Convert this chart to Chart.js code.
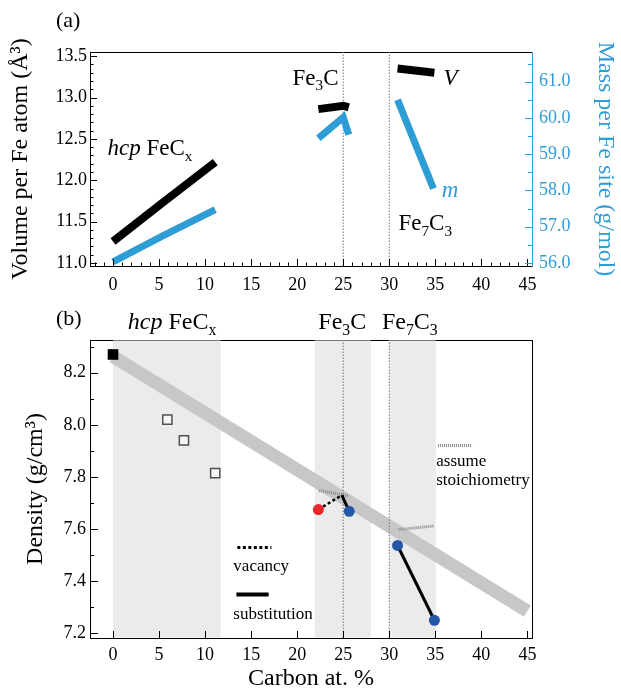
<!DOCTYPE html>
<html lang="en">
<head>
<meta charset="UTF-8" />
<title>Fe carbides: volume, mass and density</title>
<script src="https://cdn.jsdelivr.net/npm/chart.js@4.4.1/dist/chart.umd.min.js"></script>
<style>
  body { margin: 0; background: #fff; }
  canvas { position: absolute; left: 0; }
  #volume { top: 0; }
  #density { top: 300px; }
</style>
</head>
<body>
<canvas id="volume" width="621" height="300"></canvas>
<canvas id="density" width="621" height="393"></canvas>

<script>
const BLUE = 'rgb(46, 157, 214)'
const SERIF = '"Liberation Serif", "Times New Roman", serif'

// axis ticks
const xTicks = [0, 5, 10, 15, 20, 25, 30, 35, 40, 45]
const volumeTicks = [11.0, 11.5, 12.0, 12.5, 13.0, 13.5]
const massTicks = [56, 57, 58, 59, 60, 61]
const densityTicks = [7.2, 7.4, 7.6, 7.8, 8.0, 8.2]

// (a) volume per Fe atom (left axis) and mass per Fe site (right axis)
const hcpX = [0, 5.5, 11.1]
const hcpVolume = [11.26, 11.74, 12.22]
const hcpMass = [56.03, 56.76, 57.47]
const fe3cX = [22.3, 25.0, 25.6]
const fe3cVolume = [12.86, 12.9, 12.88]
const fe3cMass = [59.44, 60.02, 59.54]
const fe7c3X = [30.9, 34.9]
const fe7c3Volume = [13.35, 13.3]
const fe7c3MassX = [30.9, 34.8]
const fe7c3Mass = [60.5, 58.05]

// (b) density
const trendX = [0, 45]
const trendDensity = [8.262, 7.285]
const feX = [0]
const feDensity = [8.27]
const hcpExpX = [5.9, 7.7, 11.1]
const hcpExpDensity = [8.02, 7.94, 7.815]
const vacancyX = [22.3]
const vacancyDensity = [7.675]
const substX = [25.65, 30.9, 34.9]
const substDensity = [7.668, 7.537, 7.25]
const vacancyPathX = [22.3, 24.85]
const vacancyPathDensity = [7.675, 7.73]
const substPathX = [24.85, 25.65]
const substPathDensity = [7.73, 7.668]
const fe7c3PathX = [30.9, 34.9]
const fe7c3PathDensity = [7.537, 7.25]
const stoichFe3cX = [22.4, 25.6]
const stoichFe3cDensity = [7.748, 7.728]
const stoichFe7c3X = [31.0, 34.8]
const stoichFe7c3Density = [7.598, 7.612]
const phaseRanges = [[0, 11.7], [21.9, 28.0], [30.0, 35.05]]
const phaseLines = [25, 30]

// key samples in panel (b)
const vacancyKeyX = [13.5, 17.2]
const vacancyKeyY = [7.529, 7.529]
const substKeyX = [13.4, 16.9]
const substKeyY = [7.349, 7.349]
const stoichKeyX = [35.3, 39.0]
const stoichKeyY = [7.921, 7.921]

const X_MIN = -2.5, X_MAX = 45.5
const VOL_MIN = 10.964, VOL_MAX = 13.55
const MASS_MIN = 55.917, MASS_MAX = 61.82
const DEN_MIN = 7.182, DEN_MAX = 8.3255

Chart.defaults.font.family = SERIF
Chart.defaults.color = '#000'

function pts(xs, ys) {
  return xs.map((x, i) => ({ x, y: ys[i] }))
}

function line(xs, ys, color, width, extra) {
  return Object.assign({
    data: pts(xs, ys),
    showLine: true,
    borderColor: color,
    borderWidth: width,
    borderCapStyle: 'butt',
    pointRadius: 0,
    order: 5,
  }, extra || {})
}

function guides(yMin, yMax) {
  return phaseLines.map((x) => line([x, x], [yMin, yMax], '#777', 1, { borderDash: [1.5, 1.5], order: 8 }))
}

function range(from, to, step) {
  const out = []
  for (let v = from; v <= to + 1e-9; v += step) out.push(Math.round(v * 100) / 100)
  return out
}

const innerTicks = {
  id: 'innerTicks',
  afterDraw(chart, args, opts) {
    const ctx = chart.ctx
    const { top, bottom, left, right } = chart.chartArea
    ctx.save()
    ctx.lineWidth = 1
    opts.specs.forEach((spec) => {
      const scale = chart.scales[spec.axis]
      ctx.strokeStyle = spec.color || '#000'
      const draw = (v, len) => {
        const p = Math.round(scale.getPixelForValue(v)) + 0.5
        ctx.beginPath()
        if (spec.side === 'bottom') {
          ctx.moveTo(p, bottom)
          ctx.lineTo(p, bottom - len)
        } else if (spec.side === 'left') {
          ctx.moveTo(left, p)
          ctx.lineTo(left + len, p)
        } else {
          ctx.moveTo(right, p)
          ctx.lineTo(right - len, p)
        }
        ctx.stroke()
      }
      spec.minor.forEach((v) => draw(v, spec.minorLen))
      spec.major.forEach((v) => draw(v, spec.majorLen))
    })
    ctx.restore()
  },
}

const phaseShade = {
  id: 'phaseShade',
  beforeDatasetsDraw(chart, args, opts) {
    if (!opts.ranges) return
    const ctx = chart.ctx
    const { top, bottom } = chart.chartArea
    const x = chart.scales.x
    ctx.save()
    ctx.fillStyle = '#ebebeb'
    opts.ranges.forEach(([a, b]) => {
      const x0 = x.getPixelForValue(a)
      const x1 = x.getPixelForValue(b)
      ctx.fillRect(x0, top + 0.5, x1 - x0, bottom - top - 1)
    })
    ctx.restore()
  },
}

// text with italic and subscript parts
const labels = {
  id: 'labels',
  afterDraw(chart, args, opts) {
    const ctx = chart.ctx
    ctx.save()
    ctx.textBaseline = 'alphabetic'
    ctx.textAlign = 'left'
    opts.items.forEach((item) => {
      let x = item.px != null ? item.px : chart.scales.x.getPixelForValue(item.x)
      let y
      if (item.py != null) y = item.py
      else if (item.dy != null) y = chart.chartArea.top + item.dy
      else y = chart.scales[item.axis || 'y'].getPixelForValue(item.y)
      ctx.fillStyle = item.color || '#000'
      item.parts.forEach(([text, style]) => {
        const sub = style === 'sub'
        const size = sub ? item.size * 0.66 : item.size
        ctx.font = (style === 'i' ? 'italic ' : '') + size + 'px ' + SERIF
        ctx.fillText(text, x, y + (sub ? item.size * 0.24 : 0))
        x += ctx.measureText(text).width
      })
    })
    ctx.restore()
  },
}

function frameAxis(position, fit) {
  return {
    type: 'linear',
    position,
    min: position === 'top' ? X_MIN : undefined,
    max: position === 'top' ? X_MAX : undefined,
    ticks: { display: false },
    grid: { display: false, drawTicks: false },
    border: { color: '#000', width: 1 },
    afterFit: fit,
  }
}

const oneDecimal = (v) => Number(v).toFixed(1)

// ---------- (a) ----------
new Chart(document.getElementById('volume'), {
  type: 'scatter',
  data: {
    datasets: [
      line(hcpX, hcpVolume, '#000', 8, { yAxisID: 'y' }),
      line(hcpX, hcpMass, BLUE, 7, { yAxisID: 'y2' }),
      line(fe3cX, fe3cVolume, '#000', 8, { yAxisID: 'y' }),
      line(fe3cX, fe3cMass, BLUE, 7, { yAxisID: 'y2' }),
      line(fe7c3X, fe7c3Volume, '#000', 8, { yAxisID: 'y' }),
      line(fe7c3MassX, fe7c3Mass, BLUE, 7, { yAxisID: 'y2' }),
      ...guides(VOL_MIN, VOL_MAX),
    ],
  },
  options: {
    responsive: false,
    animation: false,
    layout: { padding: { top: 52, left: 0, right: 0, bottom: 0 } },
    plugins: {
      legend: { display: false },
      tooltip: { enabled: false },
      innerTicks: {
        specs: [
          { axis: 'x', side: 'bottom', major: xTicks, minor: range(-2, 45, 1), majorLen: 7, minorLen: 3.5 },
          { axis: 'y', side: 'left', major: volumeTicks, minor: range(11.0, 13.5, 0.1), majorLen: 7, minorLen: 3.5 },
          { axis: 'y2', side: 'right', major: massTicks, minor: range(56.5, 61.5, 1), majorLen: 7, minorLen: 4, color: BLUE },
        ],
      },
      labels: {
        items: [
          { px: 56, py: 27, size: 22, parts: [['(a)', '']] },
          { x: -0.6, y: 12.3, size: 23, parts: [['hcp', 'i'], [' FeC', ''], ['x', 'sub']] },
          { x: 19.5, y: 13.157, size: 23, parts: [['Fe', ''], ['3', 'sub'], ['C', '']] },
          { x: 35.9, y: 13.157, size: 23, parts: [['V', 'i']] },
          { x: 35.7, y: 57.83, axis: 'y2', size: 23, color: BLUE, parts: [['m', 'i']] },
          { x: 31.0, y: 11.395, size: 23, parts: [['Fe', ''], ['7', 'sub'], ['C', ''], ['3', 'sub']] },
        ],
      },
    },
    scales: {
      x: {
        type: 'linear',
        position: 'bottom',
        min: X_MIN,
        max: X_MAX,
        afterBuildTicks: (s) => { s.ticks = xTicks.map((value) => ({ value })) },
        afterFit: (s) => { s.height = 34 },
        grid: { display: false, drawTicks: false },
        border: { color: '#000', width: 1 },
        ticks: { color: '#000', font: { size: 18 }, padding: 8, maxRotation: 0, autoSkip: false },
      },
      xTop: frameAxis('top', (s) => { s.height = 0 }),
      y: {
        type: 'linear',
        position: 'left',
        min: VOL_MIN,
        max: VOL_MAX,
        afterBuildTicks: (s) => { s.ticks = volumeTicks.map((value) => ({ value })) },
        afterFit: (s) => { s.width = 90 },
        grid: { display: false, drawTicks: false },
        border: { color: '#000', width: 1 },
        ticks: { color: '#000', font: { size: 18 }, padding: 3, callback: oneDecimal },
        title: { display: true, text: 'Volume per Fe atom (Å³)', font: { size: 24 }, padding: { top: 6, bottom: 0 } },
      },
      y2: {
        type: 'linear',
        position: 'right',
        min: MASS_MIN,
        max: MASS_MAX,
        afterBuildTicks: (s) => { s.ticks = massTicks.map((value) => ({ value })) },
        afterFit: (s) => { s.width = 89 },
        grid: { display: false, drawTicks: false },
        border: { color: BLUE, width: 1 },
        ticks: { color: BLUE, font: { size: 18 }, padding: 7, callback: oneDecimal },
        title: { display: true, text: 'Mass per Fe site (g/mol)', color: BLUE, font: { size: 24 }, padding: { top: 1, bottom: 0 } },
      },
    },
  },
  plugins: [innerTicks, labels],
})

// ---------- (b) ----------
new Chart(document.getElementById('density'), {
  type: 'scatter',
  data: {
    datasets: [
      line(trendX, trendDensity, 'rgb(198, 199, 201)', 13, { order: 9 }),
      ...guides(DEN_MIN, DEN_MAX),
      line(stoichFe3cX, stoichFe3cDensity, '#8a8a8a', 3, { borderDash: [1, 1] }),
      line(stoichFe7c3X, stoichFe7c3Density, '#8a8a8a', 3, { borderDash: [1, 1] }),
      line(stoichKeyX, stoichKeyY, '#8a8a8a', 3, { borderDash: [1, 1] }),
      line(vacancyPathX, vacancyPathDensity, '#000', 2.5, { borderDash: [3, 2.5], order: 4 }),
      line(substPathX, substPathDensity, '#000', 3, { order: 4 }),
      line(fe7c3PathX, fe7c3PathDensity, '#000', 3, { order: 4 }),
      line(vacancyKeyX, vacancyKeyY, '#000', 3, { borderDash: [3, 2.5] }),
      line(substKeyX, substKeyY, '#000', 4),
      {
        data: pts(feX, feDensity),
        pointStyle: 'rect',
        pointRadius: 7.5,
        backgroundColor: '#000',
        borderWidth: 0,
        order: 1,
      },
      {
        data: pts(hcpExpX, hcpExpDensity),
        pointStyle: 'rect',
        pointRadius: 6.5,
        backgroundColor: '#f6f6f6',
        borderColor: '#505050',
        borderWidth: 1.5,
        order: 1,
      },
      {
        data: pts(vacancyX, vacancyDensity),
        pointRadius: 5.5,
        backgroundColor: 'rgb(232, 38, 43)',
        borderWidth: 0,
        order: 1,
      },
      {
        data: pts(substX, substDensity),
        pointRadius: 5.5,
        backgroundColor: 'rgb(36, 87, 168)',
        borderWidth: 0,
        order: 1,
      },
    ],
  },
  options: {
    responsive: false,
    animation: false,
    layout: { padding: { top: 40, left: 0, right: 0, bottom: 0 } },
    plugins: {
      legend: { display: false },
      tooltip: { enabled: false },
      phaseShade: { ranges: phaseRanges },
      innerTicks: {
        specs: [
          { axis: 'x', side: 'bottom', major: xTicks, minor: [], majorLen: 7, minorLen: 0 },
          { axis: 'y', side: 'left', major: densityTicks, minor: range(7.3, 8.3, 0.2), majorLen: 8, minorLen: 4 },
        ],
      },
      labels: {
        items: [
          { px: 56, py: 25, size: 22, parts: [['(b)', '']] },
          { x: 1.6, dy: -11, size: 24, parts: [['hcp', 'i'], [' FeC', ''], ['x', 'sub']] },
          { x: 22.3, dy: -11, size: 24, parts: [['Fe', ''], ['3', 'sub'], ['C', '']] },
          { x: 29.2, dy: -11, size: 24, parts: [['Fe', ''], ['7', 'sub'], ['C', ''], ['3', 'sub']] },
          { x: 35.1, y: 7.842, size: 17, parts: [['assume', '']] },
          { x: 35.1, y: 7.768, size: 17, parts: [['stoichiometry', '']] },
          { x: 13.07, y: 7.439, size: 17, parts: [['vacancy', '']] },
          { x: 13.07, y: 7.254, size: 17, parts: [['substitution', '']] },
        ],
      },
    },
    scales: {
      x: {
        type: 'linear',
        position: 'bottom',
        min: X_MIN,
        max: X_MAX,
        afterBuildTicks: (s) => { s.ticks = xTicks.map((value) => ({ value })) },
        afterFit: (s) => { s.height = 55 },
        grid: { display: false, drawTicks: false },
        border: { color: '#000', width: 1 },
        ticks: { color: '#000', font: { size: 18 }, padding: 6, maxRotation: 0, autoSkip: false },
        title: { display: true, text: 'Carbon at. %', font: { size: 24 }, padding: { top: 0, bottom: 0 } },
      },
      xTop: frameAxis('top', (s) => { s.height = 0 }),
      y: {
        type: 'linear',
        position: 'left',
        min: DEN_MIN,
        max: DEN_MAX,
        afterBuildTicks: (s) => { s.ticks = densityTicks.map((value) => ({ value })) },
        afterFit: (s) => { s.width = 90 },
        grid: { display: false, drawTicks: false },
        border: { color: '#000', width: 1 },
        ticks: { color: '#000', font: { size: 18 }, padding: 4, callback: oneDecimal },
        title: { display: true, text: 'Density (g/cm³)', font: { size: 24 }, padding: { top: 21, bottom: 0 } },
      },
      y2: Object.assign(frameAxis('right', (s) => { s.width = 89 }), { min: DEN_MIN, max: DEN_MAX }),
    },
  },
  plugins: [phaseShade, innerTicks, labels],
})
</script>
</body>
</html>
